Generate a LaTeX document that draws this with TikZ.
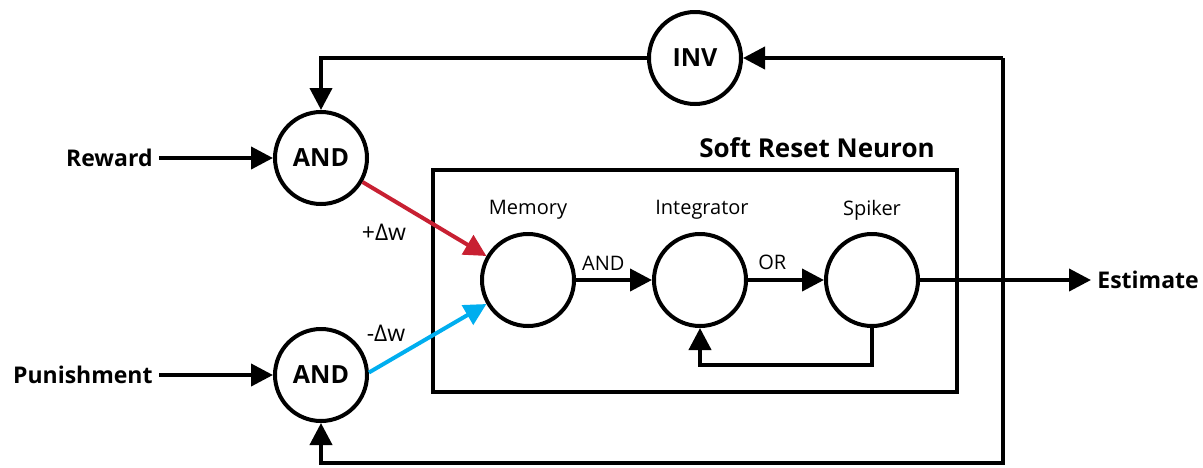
\documentclass[tikz,border=0pt]{standalone}
\usepackage{fontspec}
\setmainfont{Open Sans}
\usetikzlibrary{arrows.meta, positioning}
\definecolor{plusred}{RGB}{200, 32, 50}
\definecolor{minusblue}{RGB}{0, 174, 239}

\tikzset{
  gate/.style={circle, draw, line width=2pt, minimum size=46pt, inner sep=0pt,
    font=\bfseries\fontsize{12.5}{14}\selectfont},
  unit/.style={circle, draw, line width=2pt, minimum size=46pt, inner sep=0pt},
  wire/.style={line width=2pt, -{Triangle[length=11pt, width=11pt]}},
  signal/.style={font=\bfseries\fontsize{11.5}{13}\selectfont, inner sep=3pt},
  caption/.style={font=\fontsize{10}{12}\selectfont, inner sep=1pt}
}

\begin{document}
\begin{tikzpicture}[x=0.5pt, y=-0.5pt]
  \useasboundingbox (0, 0) rectangle (1203, 467);

  % Gates
  \node[gate] (inv) at (695, 58) {INV};
  \node[gate] (andR) at (321, 158) {AND};
  \node[gate] (andP) at (321, 375) {AND};

  % Inputs and output
  \node[signal, anchor=east] (rew) at (159, 158) {Reward};
  \node[signal, anchor=east] (pun) at (159, 375) {Punishment};
  \node[signal, anchor=west] (est) at (1091, 280) {Estimate};

  % Soft reset neuron
  \draw[line width=2pt] (433, 170) rectangle (957, 392);
  \node[signal, font=\bfseries\fontsize{13}{15}\selectfont] (title) at (817, 148) {Soft Reset Neuron};
  \node[unit] (mem) at (528, 280) {};
  \node[unit] (int) at (700, 280) {};
  \node[unit] (spk) at (872, 280) {};
  \node[caption] (memLbl) at (528, 210) {Memory};
  \node[caption] (intLbl) at (702, 210) {Integrator};
  \node[caption] (spkLbl) at (872, 210) {Spiker};

  \draw[wire] (mem) -- node[caption, pos=0.36, above=3pt] {AND} (int);
  \draw[wire] (int) -- node[caption, pos=0.32, above=3pt] {OR} (spk);
  \draw[wire] (spk.south) -- ++(0, 37) -| (int.south);

  % Weight updates
  \draw[wire, plusred] (andR.-30) -- (mem.150);
  \draw[wire, minusblue] (andP.3) -- (mem.210);
  \node[caption, font=\fontsize{11.5}{13}\selectfont] (plus) at (384, 232) {+Δw};
  \node[caption, font=\fontsize{11.5}{13}\selectfont] (minus) at (386, 333) {-Δw};

  % Connections
  \draw[wire] (rew) -- (andR);
  \draw[wire] (pun) -- (andP);
  \draw[wire] (spk) -- (est);
  \coordinate (fbTop) at (1003, 58);
  \coordinate (fbBot) at (1003, 463);
  \draw[wire] (fbTop) -- (inv);
  \draw[wire] (inv) -| (andR);
  \draw[wire] (fbTop) -- (fbBot) -| (andP);
\end{tikzpicture}
\end{document}
